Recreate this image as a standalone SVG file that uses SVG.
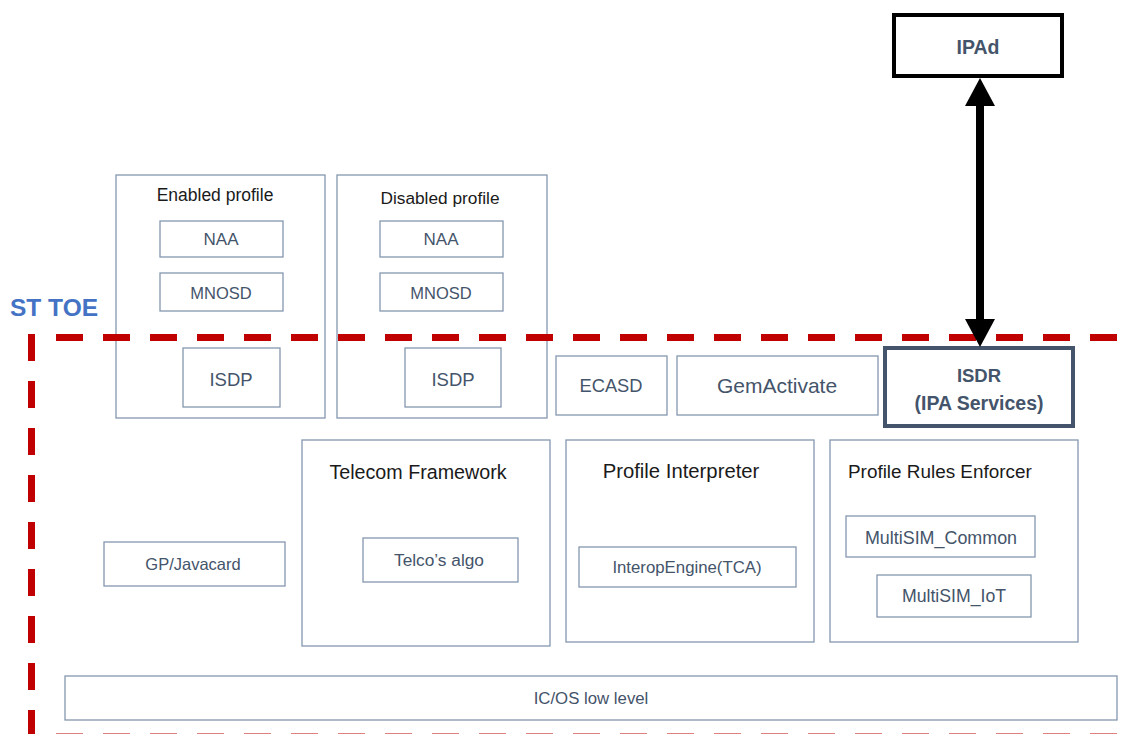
<svg xmlns="http://www.w3.org/2000/svg" width="1129" height="734" viewBox="0 0 1129 734">
<style>
.box{fill:#fff;stroke:#8497b0;stroke-width:1.3}
.lbl{font-family:"Liberation Sans",Arial,sans-serif;fill:#44546a;text-anchor:middle}
.ttl{font-family:"Liberation Sans",Arial,sans-serif;fill:#1a1a1a}
.toe{fill:none;stroke:#c00000;stroke-width:7;stroke-dasharray:27 20}
</style>
<rect width="1129" height="734" fill="#fff"/>
<g id="enabled-profile">
<rect class="box" x="116" y="175" width="209" height="243"/>
<text class="ttl" x="215" y="201" font-size="17.5" text-anchor="middle">Enabled profile</text>
<rect class="box" x="160" y="221" width="123" height="36"/>
<text class="lbl" x="221" y="245" font-size="17">NAA</text>
<rect class="box" x="160" y="273" width="123" height="38"/>
<text class="lbl" x="221" y="299" font-size="16.5">MNOSD</text>
</g>
<g id="disabled-profile">
<rect class="box" x="337" y="175" width="210" height="243"/>
<text class="ttl" x="440" y="204" font-size="17.3" text-anchor="middle">Disabled profile</text>
<rect class="box" x="380" y="221" width="123" height="36"/>
<text class="lbl" x="441" y="245" font-size="17">NAA</text>
<rect class="box" x="380" y="273" width="123" height="38"/>
<text class="lbl" x="441" y="299" font-size="16.5">MNOSD</text>
</g>
<g id="toe-boundary">
<path class="toe" d="M56 337.5H1117"/>
<path class="toe" d="M31.5 334V734" stroke-width="6.5"/>
<path class="toe" d="M56 737H1129"/>
</g>
<g id="st-toe">
<text x="10" y="316" font-family="'Liberation Sans',Arial,sans-serif" font-size="24.5" font-weight="bold" fill="#4472c4">ST TOE</text>
</g>
<g id="isdp-enabled">
<rect class="box" x="183" y="348" width="97" height="59"/>
<text class="lbl" x="231" y="386" font-size="18.5">ISDP</text>
</g>
<g id="isdp-disabled">
<rect class="box" x="405" y="348" width="96" height="59"/>
<text class="lbl" x="453" y="386" font-size="18.5">ISDP</text>
</g>
<g id="ecasd">
<rect class="box" x="556" y="356" width="111" height="59"/>
<text class="lbl" x="611" y="392" font-size="18.3">ECASD</text>
</g>
<g id="gemactivate">
<rect class="box" x="677" y="356" width="201" height="59"/>
<text class="lbl" x="777" y="393" font-size="21">GemActivate</text>
</g>
<g id="isdr">
<rect x="885" y="348" width="188" height="78" fill="#fff" stroke="#44546a" stroke-width="4"/>
<text class="lbl" x="979" y="382" font-size="18.5" font-weight="bold">ISDR</text>
<text class="lbl" x="979" y="410" font-size="19.5" font-weight="bold">(IPA Services)</text>
</g>
<g id="ipad">
<rect x="894" y="15" width="168" height="61" fill="#fff" stroke="#000" stroke-width="4"/>
<text class="lbl" x="978" y="54" font-size="19.5" font-weight="bold">IPAd</text>
</g>
<g id="telecom-framework">
<rect class="box" x="302" y="440" width="248" height="206"/>
<text class="ttl" x="418" y="479" font-size="19.7" text-anchor="middle">Telecom Framework</text>
<rect class="box" x="363" y="538" width="155" height="44"/>
<text class="lbl" x="439" y="566" font-size="17.3">Telco’s algo</text>
</g>
<g id="profile-interpreter">
<rect class="box" x="566" y="440" width="248" height="202"/>
<text class="ttl" x="681" y="478" font-size="20.3" text-anchor="middle">Profile Interpreter</text>
<rect class="box" x="579" y="547" width="217" height="40"/>
<text class="lbl" x="687" y="573" font-size="16.8">InteropEngine(TCA)</text>
</g>
<g id="profile-rules-enforcer">
<rect class="box" x="830" y="440" width="248" height="202"/>
<text class="ttl" x="848" y="478" font-size="18.9">Profile Rules Enforcer</text>
<rect class="box" x="846" y="516" width="189" height="41"/>
<text class="lbl" x="941" y="544" font-size="17.9">MultiSIM_Common</text>
<rect class="box" x="877" y="575" width="154" height="42"/>
<text class="lbl" x="954" y="602" font-size="17.7">MultiSIM_IoT</text>
</g>
<g id="gp-javacard">
<rect class="box" x="104" y="542" width="181" height="44"/>
<text class="lbl" x="193" y="570" font-size="16.5">GP/Javacard</text>
</g>
<g id="ic-os">
<rect class="box" x="65" y="676" width="1052" height="44"/>
<text class="lbl" x="591" y="704" font-size="16.8">IC/OS low level</text>
</g>
<g id="connectors">
<line x1="980" y1="100" x2="980" y2="325" stroke="#000" stroke-width="8"/>
<polygon points="980,78 995,106 965,106" fill="#000"/>
<polygon points="980,347 995,319 965,319" fill="#000"/>
</g>
</svg>
